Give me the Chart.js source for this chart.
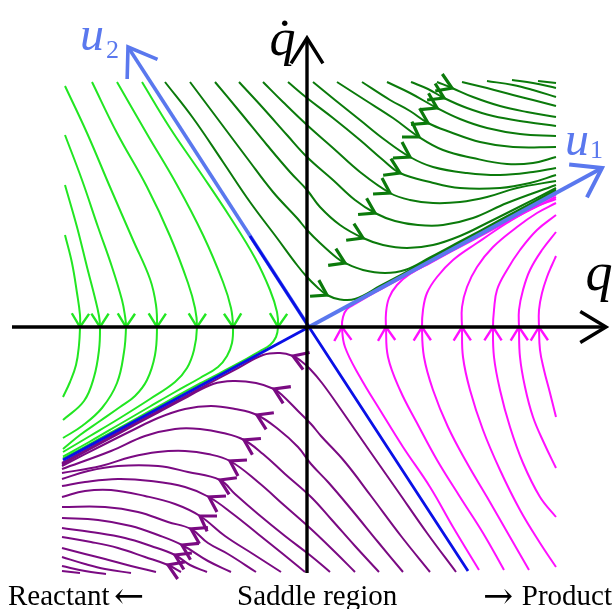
<!DOCTYPE html>
<html>
<head>
<meta charset="utf-8">
<script src="https://cdn.jsdelivr.net/npm/chart.js@4.4.1/dist/chart.umd.min.js"></script>
<style>
  html, body { margin: 0; padding: 0; background: #fff; }
  #wrap { width: 613px; height: 609px; }
</style>
</head>
<body>
<div id="wrap"><canvas id="phase"></canvas></div>
<script>
// Trajectorias leidas del retrato de fase, puntos [q, qdot]
// Region reactante (verde claro), fluye hacia abajo al cruzar q dot = 0
const greenLeft = [
  [[-2.42,0.92],[-2.35,0.64],[-2.30,0.34],[-2.27,0.12],[-2.27,0],[-2.28,-0.18],[-2.31,-0.38],[-2.37,-0.55],[-2.44,-0.70]],
  [[-2.42,1.42],[-2.30,1.00],[-2.20,0.60],[-2.12,0.29],[-2.08,0.11],[-2.07,0],[-2.08,-0.23],[-2.13,-0.50],[-2.23,-0.74],[-2.44,-0.93]],
  [[-2.42,1.92],[-2.25,1.47],[-2.09,1.00],[-1.95,0.60],[-1.85,0.27],[-1.82,0.11],[-1.81,0],[-1.83,-0.25],[-1.90,-0.56],[-2.05,-0.81],[-2.25,-0.99],[-2.44,-1.11]],
  [[-2.42,2.41],[-2.20,1.94],[-1.97,1.40],[-1.74,0.87],[-1.57,0.48],[-1.51,0.22],[-1.50,0],[-1.52,-0.28],[-1.60,-0.53],[-1.72,-0.69],[-1.87,-0.80],[-2.07,-0.94],[-2.27,-1.08],[-2.44,-1.22]],
  [[-2.15,2.45],[-1.90,1.94],[-1.60,1.40],[-1.37,0.91],[-1.19,0.44],[-1.12,0.19],[-1.10,0],[-1.13,-0.23],[-1.20,-0.41],[-1.32,-0.55],[-1.57,-0.72],[-1.87,-0.91],[-2.17,-1.09],[-2.44,-1.25]],
  [[-1.90,2.45],[-1.60,1.93],[-1.30,1.42],[-1.04,0.92],[-0.84,0.45],[-0.76,0.19],[-0.74,0],[-0.75,-0.16],[-0.80,-0.29],[-0.89,-0.40],[-1.07,-0.51],[-1.32,-0.65],[-1.57,-0.795],[-1.87,-0.97],[-2.17,-1.145],[-2.44,-1.295]],
  [[-1.65,2.45],[-1.37,1.99],[-1.07,1.55],[-0.77,1.10],[-0.52,0.69],[-0.37,0.37],[-0.30,0.15],[-0.29,0],[-0.31,-0.10],[-0.37,-0.18],[-0.47,-0.24],[-0.67,-0.355],[-1.07,-0.565],[-1.57,-0.84],[-2.07,-1.115],[-2.44,-1.315]]
];
const greenLeftArrows = [4, 5, 6, 6, 6, 6, 7];

// Region producto (magenta), fluye hacia arriba
const magentaRight = [
  [[1.72,-2.43],[1.46,-2.00],[1.23,-1.60],[0.96,-1.20],[0.73,-0.83],[0.53,-0.50],[0.38,-0.20],[0.35,0],[0.36,0.10],[0.40,0.18],[0.49,0.235],[0.68,0.345],[1.13,0.59],[1.73,0.915],[2.49,1.325]],
  [[1.97,-2.43],[1.76,-2.06],[1.53,-1.70],[1.30,-1.33],[1.10,-0.96],[0.93,-0.63],[0.81,-0.30],[0.79,0],[0.79,0.14],[0.82,0.29],[0.90,0.42],[1.03,0.53],[1.23,0.64],[1.63,0.855],[2.13,1.12],[2.49,1.30]],
  [[2.22,-2.43],[2.03,-2.10],[1.80,-1.70],[1.60,-1.36],[1.41,-1.00],[1.26,-0.63],[1.17,-0.30],[1.15,0],[1.16,0.17],[1.20,0.34],[1.30,0.50],[1.46,0.67],[1.70,0.84],[2.00,1.04],[2.26,1.19],[2.49,1.28]],
  [[2.49,-2.40],[2.33,-2.16],[2.13,-1.83],[1.93,-1.43],[1.76,-1.03],[1.63,-0.63],[1.56,-0.30],[1.55,0],[1.55,0.20],[1.60,0.40],[1.70,0.60],[1.86,0.80],[2.10,1.00],[2.30,1.14],[2.49,1.24]],
  [[2.49,-1.90],[2.33,-1.70],[2.16,-1.36],[2.03,-1.00],[1.93,-0.63],[1.87,-0.30],[1.86,0],[1.87,0.17],[1.90,0.37],[2.00,0.57],[2.13,0.77],[2.30,0.97],[2.49,1.12]],
  [[2.49,-1.41],[2.37,-1.16],[2.26,-0.90],[2.18,-0.60],[2.13,-0.30],[2.12,0],[2.12,0.17],[2.16,0.37],[2.23,0.57],[2.35,0.77],[2.49,0.95]],
  [[2.49,-0.90],[2.43,-0.66],[2.37,-0.43],[2.33,-0.23],[2.32,0],[2.32,0.17],[2.35,0.34],[2.40,0.50],[2.45,0.62],[2.49,0.71]]
];
const magentaRightArrows = [7, 7, 7, 7, 6, 5, 4];

// Region superior (verde oscuro), de u2 hacia u1
const greenTop = [
  [[-1.42,2.45],[-1.14,2.09],[-0.84,1.65],[-0.57,1.25],[-0.30,0.89],[-0.10,0.62],[0,0.50],[0.10,0.40],[0.20,0.32],[0.33,0.275],[0.48,0.28],[0.73,0.41],[1.13,0.625],[1.53,0.84],[1.93,1.055],[2.49,1.36]],
  [[-1.17,2.45],[-0.90,2.09],[-0.60,1.69],[-0.34,1.35],[-0.10,1.09],[0,0.97],[0.13,0.84],[0.30,0.69],[0.38,0.64],[0.56,0.57],[0.78,0.54],[0.98,0.57],[1.23,0.695],[1.53,0.855],[1.93,1.07],[2.49,1.375]],
  [[-0.92,2.45],[-0.67,2.15],[-0.40,1.82],[-0.17,1.55],[0,1.37],[0.13,1.20],[0.33,1.02],[0.56,0.89],[0.76,0.82],[1.00,0.79],[1.26,0.82],[1.53,0.91],[1.80,1.04],[2.06,1.17],[2.49,1.39]],
  [[-0.68,2.45],[-0.44,2.19],[-0.20,1.92],[0,1.70],[0.26,1.47],[0.48,1.27],[0.68,1.14],[0.88,1.06],[1.11,1.02],[1.36,1.02],[1.66,1.09],[2.00,1.24],[2.49,1.42]],
  [[-0.44,2.45],[-0.24,2.25],[0,2.02],[0.26,1.79],[0.53,1.55],[0.83,1.34],[1.03,1.27],[1.26,1.24],[1.53,1.25],[1.80,1.30],[2.10,1.39],[2.49,1.46]],
  [[-0.19,2.45],[0,2.29],[0.26,2.09],[0.53,1.87],[0.76,1.67],[0.93,1.54],[1.23,1.45],[1.53,1.39],[1.93,1.39],[2.23,1.44],[2.49,1.52]],
  [[0.06,2.45],[0.28,2.27],[0.53,2.07],[0.78,1.87],[1.03,1.70],[1.26,1.60],[1.60,1.54],[1.93,1.52],[2.26,1.55],[2.49,1.59]],
  [[0.30,2.45],[0.58,2.27],[0.86,2.09],[1.12,1.90],[1.36,1.77],[1.66,1.69],[2.00,1.63],[2.26,1.64],[2.49,1.70]],
  [[0.55,2.45],[0.83,2.27],[1.03,2.16],[1.21,2.04],[1.43,1.95],[1.73,1.85],[2.06,1.80],[2.49,1.80]],
  [[0.80,2.45],[1.03,2.34],[1.30,2.19],[1.53,2.08],[1.80,1.99],[2.13,1.93],[2.49,1.91]],
  [[1.04,2.45],[1.21,2.38],[1.37,2.29],[1.60,2.19],[1.86,2.11],[2.20,2.05],[2.49,2.01]],
  [[1.30,2.45],[1.45,2.39],[1.66,2.30],[1.93,2.21],[2.20,2.15],[2.49,2.10]],
  [[1.55,2.45],[1.80,2.39],[2.06,2.32],[2.26,2.27],[2.49,2.21]],
  [[1.80,2.46],[2.06,2.42],[2.26,2.37],[2.49,2.30]],
  [[2.05,2.47],[2.26,2.44],[2.49,2.39]],
  [[2.31,2.46],[2.49,2.44]]
];
const greenTopArrows = [8, 8, 7, 6, 5, 5, 4, 3, 3, 2, 2, 1, null, null, null, null];

// Region inferior (morado), de u2 hacia -u1
const purpleBottom = [
  [[1.49,-2.45],[1.20,-2.06],[0.90,-1.63],[0.62,-1.23],[0.35,-0.84],[0.15,-0.56],[0.03,-0.42],[-0.06,-0.34],[-0.14,-0.29],[-0.27,-0.26],[-0.44,-0.28],[-0.69,-0.41],[-1.09,-0.625],[-1.49,-0.84],[-1.89,-1.055],[-2.45,-1.36]],
  [[1.23,-2.45],[0.94,-2.09],[0.64,-1.69],[0.38,-1.35],[0.14,-1.09],[0.04,-0.97],[-0.09,-0.84],[-0.25,-0.68],[-0.33,-0.62],[-0.51,-0.56],[-0.74,-0.54],[-0.94,-0.57],[-1.19,-0.695],[-1.49,-0.855],[-1.89,-1.07],[-2.45,-1.375]],
  [[0.96,-2.45],[0.71,-2.15],[0.44,-1.82],[0.21,-1.55],[0.04,-1.37],[-0.09,-1.20],[-0.29,-1.02],[-0.50,-0.88],[-0.72,-0.82],[-0.96,-0.79],[-1.22,-0.82],[-1.49,-0.91],[-1.76,-1.04],[-2.02,-1.17],[-2.45,-1.39]],
  [[0.72,-2.45],[0.48,-2.19],[0.24,-1.92],[0.04,-1.70],[-0.22,-1.47],[-0.44,-1.27],[-0.63,-1.13],[-0.84,-1.06],[-1.07,-1.02],[-1.32,-1.02],[-1.62,-1.09],[-1.96,-1.24],[-2.45,-1.42]],
  [[0.48,-2.45],[0.28,-2.25],[0.04,-2.02],[-0.22,-1.79],[-0.49,-1.55],[-0.77,-1.34],[-0.99,-1.27],[-1.22,-1.24],[-1.49,-1.25],[-1.76,-1.30],[-2.06,-1.39],[-2.45,-1.46]],
  [[0.23,-2.45],[0.04,-2.29],[-0.22,-2.09],[-0.49,-1.87],[-0.72,-1.67],[-0.87,-1.53],[-1.19,-1.45],[-1.49,-1.39],[-1.89,-1.39],[-2.19,-1.44],[-2.45,-1.52]],
  [[-0.02,-2.45],[-0.24,-2.27],[-0.49,-2.07],[-0.74,-1.87],[-0.98,-1.70],[-1.22,-1.60],[-1.56,-1.54],[-1.89,-1.52],[-2.22,-1.55],[-2.45,-1.59]],
  [[-0.26,-2.45],[-0.54,-2.27],[-0.82,-2.09],[-1.07,-1.89],[-1.32,-1.77],[-1.62,-1.69],[-1.96,-1.63],[-2.22,-1.64],[-2.45,-1.70]],
  [[-0.51,-2.45],[-0.79,-2.27],[-0.99,-2.16],[-1.16,-2.02],[-1.39,-1.95],[-1.69,-1.85],[-2.02,-1.80],[-2.45,-1.80]],
  [[-0.76,-2.45],[-0.99,-2.34],[-1.25,-2.18],[-1.49,-2.08],[-1.76,-1.99],[-2.09,-1.93],[-2.45,-1.91]],
  [[-1.00,-2.45],[-1.17,-2.38],[-1.32,-2.28],[-1.56,-2.19],[-1.82,-2.11],[-2.16,-2.05],[-2.45,-2.01]],
  [[-1.26,-2.45],[-1.39,-2.38],[-1.62,-2.30],[-1.89,-2.21],[-2.16,-2.15],[-2.45,-2.10]],
  [[-1.51,-2.45],[-1.76,-2.39],[-2.02,-2.32],[-2.22,-2.27],[-2.45,-2.21]],
  [[-1.76,-2.46],[-2.02,-2.42],[-2.22,-2.37],[-2.45,-2.30]],
  [[-2.01,-2.47],[-2.22,-2.44],[-2.45,-2.39]],
  [[-2.27,-2.46],[-2.45,-2.44]]
];
const purpleBottomArrows = [8, 8, 7, 6, 5, 5, 4, 3, 3, 2, 2, 1, null, null, null, null];

// Ejes y direcciones propias
const axisQ = [[-2.95, 0], [2.99, 0]];
const axisQdot = [[0, -2.46], [0, 2.89]];
const u1Vector = [[0.02, 0], [2.95, 1.59]];
const u1Back = [[0.02, 0], [-2.44, -1.33]];
const u2Vector = [[0.02, 0], [-1.79, 2.80]];
const u2Line = [[1.61, -2.44], [0.02, 0], [-0.57, 0.91]];

const lightBlue = '#5a78ee';
const darkBlue = '#0a10e6';

const textLabels = [
  { text: 'q\u0307', x: -0.245, y: 2.72, font: 'italic 52px "Liberation Serif", serif', color: '#000', align: 'center' },
  { text: 'q', x: 2.92, y: 0.37, font: 'italic 54px "Liberation Serif", serif', color: '#000', align: 'center' },
  { text: 'u', x: 2.58, y: 1.72, font: 'italic 48px "Liberation Serif", serif', color: lightBlue, align: 'left' },
  { text: '1', x: 2.83, y: 1.69, font: '26px "Liberation Serif", serif', color: lightBlue, align: 'left' },
  { text: 'u', x: -2.27, y: 2.77, font: 'italic 48px "Liberation Serif", serif', color: lightBlue, align: 'left' },
  { text: '2', x: -2.01, y: 2.69, font: '26px "Liberation Serif", serif', color: lightBlue, align: 'left' },
  { text: 'Reactant', x: -2.99, y: -2.78, font: '29px "Liberation Serif", serif', color: '#000', align: 'left' },
  { text: '\u2190', x: -1.93, y: -2.81, font: '36px "DejaVu Serif", serif', color: '#000', align: 'left' },
  { text: 'Saddle region', x: -0.70, y: -2.78, font: '29px "Liberation Serif", serif', color: '#000', align: 'left' },
  { text: '\u2192', x: 1.76, y: -2.81, font: '36px "DejaVu Serif", serif', color: '#000', align: 'left' },
  { text: 'Product', x: 3.05, y: -2.78, font: '29px "Liberation Serif", serif', color: '#000', align: 'right' }
];

function family(curves, arrows, color, width, arrowLen, arrowWidth, order) {
  return curves.map((c, i) => ({
    data: c.map(p => ({ x: p[0], y: p[1] })),
    borderColor: color,
    borderWidth: width,
    tension: 0.4,
    showLine: true,
    pointRadius: 0,
    order: order,
    arrowAt: arrows ? arrows[i] : null,
    arrowLen: arrowLen,
    arrowWidth: arrowWidth
  }));
}

function straight(pts, color, width, arrow, order) {
  return {
    data: pts.map(p => ({ x: p[0], y: p[1] })),
    borderColor: color,
    borderWidth: width,
    tension: 0,
    showLine: true,
    pointRadius: 0,
    order: order,
    arrowAt: arrow ? pts.length - 1 : null,
    arrowLen: arrow ? arrow.len : 0,
    arrowWidth: width,
    arrowHalf: arrow ? arrow.half : 0
  };
}

// dibuja la punta de flecha abierta despues de cada linea
const arrowPlugin = {
  id: 'arrowHeads',
  afterDatasetDraw(chart, args) {
    const ds = chart.data.datasets[args.index];
    if (ds.arrowAt == null) return;
    const pts = args.meta.data;
    const k = ds.arrowAt;
    const a = pts[Math.max(k - 1, 0)];
    const b = pts[Math.min(k + 1, pts.length - 1)];
    const t = pts[k];
    const ang = Math.atan2(b.y - a.y, b.x - a.x);
    const h = ds.arrowHalf || 0.57;
    const L = ds.arrowLen;
    const ctx = chart.ctx;
    ctx.save();
    ctx.strokeStyle = ds.borderColor;
    ctx.lineWidth = ds.arrowWidth;
    ctx.lineJoin = 'miter';
    ctx.beginPath();
    ctx.moveTo(t.x - L * Math.cos(ang - h), t.y - L * Math.sin(ang - h));
    ctx.lineTo(t.x, t.y);
    ctx.lineTo(t.x - L * Math.cos(ang + h), t.y - L * Math.sin(ang + h));
    ctx.stroke();
    ctx.restore();
  }
};

const labelPlugin = {
  id: 'phaseLabels',
  afterDraw(chart) {
    const ctx = chart.ctx;
    const sx = chart.scales.x, sy = chart.scales.y;
    ctx.save();
    ctx.textBaseline = 'alphabetic';
    textLabels.forEach(l => {
      ctx.font = l.font;
      ctx.fillStyle = l.color;
      ctx.textAlign = l.align;
      ctx.fillText(l.text, sx.getPixelForValue(l.x), sy.getPixelForValue(l.y));
    });
    ctx.restore();
  }
};

const datasets = [
  straight(axisQ, '#000', 3.4, { len: 30, half: 0.54 }, 0),
  straight(axisQdot, '#000', 3.4, { len: 30, half: 0.56 }, 0),
  straight(u2Line, darkBlue, 2.8, null, 1),
  straight(u1Vector, lightBlue, 4, { len: 33, half: 0.6 }, 2),
  straight(u1Back, darkBlue, 2.8, null, 2),
  straight(u2Vector, lightBlue, 3.6, { len: 32, half: 0.6 }, 3)
].concat(
  family(greenTop, greenTopArrows, '#0b7a0b', 2, 17, 3.2, 5),
  family(purpleBottom, purpleBottomArrows, '#7a0a82', 2, 17, 3.2, 5),
  family(greenLeft, greenLeftArrows, '#22e622', 2, 16, 2.4, 5),
  family(magentaRight, magentaRightArrows, '#ff10ff', 2, 16, 2.4, 5)
);

const phaseChart = new Chart(document.getElementById('phase'), {
  type: 'scatter',
  data: { datasets: datasets },
  options: {
    responsive: true,
    maintainAspectRatio: false,
    animation: false,
    events: [],
    layout: { padding: 0 },
    plugins: { legend: { display: false }, tooltip: { enabled: false } },
    scales: {
      x: { type: 'linear', min: -3.07, max: 3.06, display: false },
      y: { type: 'linear', min: -2.82, max: 3.27, display: false }
    }
  },
  plugins: [arrowPlugin, labelPlugin]
});
</script>
</body>
</html>
